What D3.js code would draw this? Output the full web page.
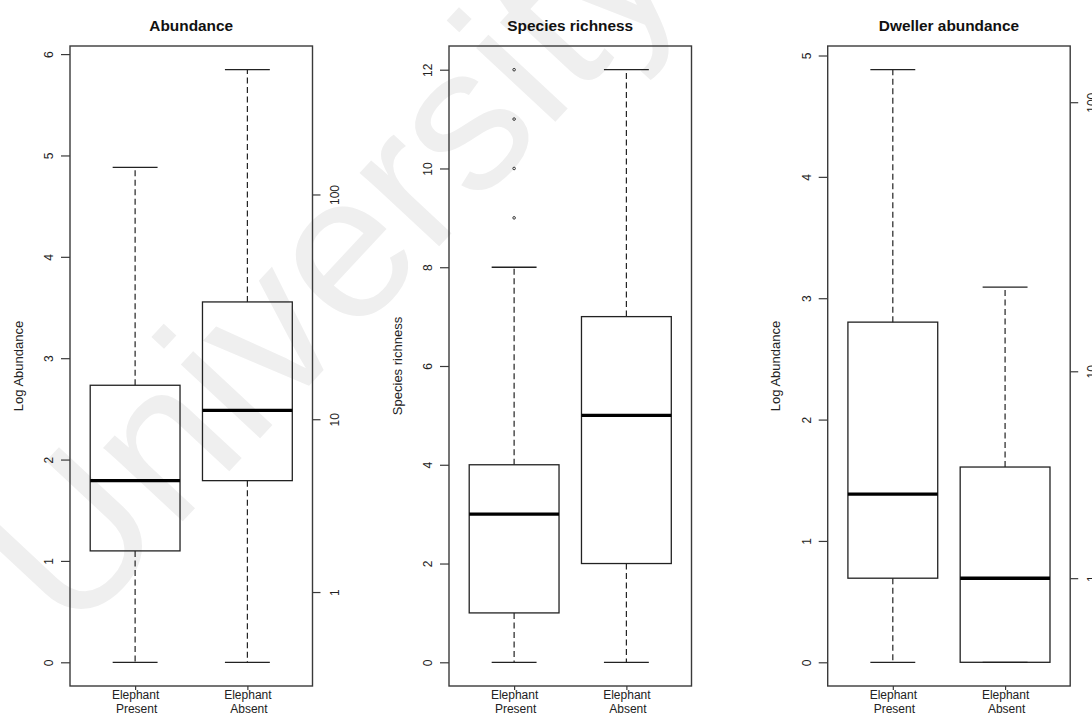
<!DOCTYPE html>
<html>
<head>
<meta charset="utf-8">
<script src="https://cdn.jsdelivr.net/npm/d3@7"></script>
<style>
  html, body { margin: 0; padding: 0; background: #fff; }
  svg { display: block; font-family: "Liberation Sans", Arial, sans-serif; }
</style>
</head>
<body>
<svg id="chart" width="1092" height="715"></svg>
<script>
// ---------------- data ----------------
const groups = ["Elephant\nPresent", "Elephant\nAbsent"];
const panelTitles = ["Abundance", "Species richness", "Dweller abundance"];
const yTitles = ["Log Abundance", "Species richness", "Log Abundance"];

// five-number summaries [min whisker, Q1, median, Q3, max whisker]
const abundancePresent = [0, 1.099, 1.792, 2.733, 4.883];
const abundanceAbsent  = [0, 1.792, 2.485, 3.555, 5.846];
const richnessPresent  = [0, 1, 3, 4, 8];
const richnessAbsent   = [0, 2, 5, 7, 12];
const dwellerPresent   = [0, 0.693, 1.386, 2.803, 4.883];
const dwellerAbsent    = [0, 0, 0.693, 1.609, 3.091];

const richnessPresentOutliers = [9, 10, 11, 12];

const abundanceTicks = [0, 1, 2, 3, 4, 5, 6];
const richnessTicks  = [0, 2, 4, 6, 8, 10, 12];
const dwellerTicks   = [0, 1, 2, 3, 4, 5];
const rawCountTicks  = [1, 10, 100];   // right axis, log(x+1) scale

const panels = [
  { stats: [abundancePresent, abundanceAbsent], outliers: [[], []], ticks: abundanceTicks, right: true },
  { stats: [richnessPresent, richnessAbsent], outliers: [richnessPresentOutliers, []], ticks: richnessTicks, right: false },
  { stats: [dwellerPresent, dwellerAbsent], outliers: [[], []], ticks: dwellerTicks, right: true }
];

// ---------------- layout ----------------
const svg = d3.select("#chart");
const panelLefts = [70, 449, 827.7];
const plotW = 242.5;
const plotTop = 46, plotBottom = 686;
const ink = "#222";
const frameCol = "#3a3a3a";

// watermark (behind everything)
svg.append("text")
  .attr("transform", "translate(72,640) rotate(-47)")
  .attr("font-size", 205)
  .attr("font-family", "'Liberation Sans', Arial, sans-serif")
  .attr("fill", "#efefef")
  .text("University");

panels.forEach((p, i) => {
  const left = panelLefts[i];
  const g = svg.append("g");

  const all = p.stats.flat().concat(p.outliers.flat());
  const lo = d3.min(all), hi = d3.max(all);
  const ext = (hi - lo) * 0.04;
  const yDomain = [lo - ext, hi + ext];
  const y = d3.scaleLinear().domain(yDomain).range([plotBottom, plotTop]);
  const x = d3.scaleLinear().domain([0.42, 2.58]).range([left, left + plotW]);

  // left axis
  const ay = g.append("g")
    .attr("transform", `translate(${left},0)`)
    .call(d3.axisLeft(y).tickValues(p.ticks).tickSize(9).tickFormat(d3.format("d")));
  ay.select(".domain").remove();
  ay.selectAll(".tick line").attr("stroke", frameCol).attr("stroke-width", 1.2);
  ay.selectAll(".tick text")
    .attr("x", null).attr("dy", null)
    .attr("transform", "translate(-21,0) rotate(-90)")
    .attr("text-anchor", "middle")
    .attr("dominant-baseline", "central")
    .attr("font-size", 12)
    .attr("font-family", "'Liberation Sans', Arial, sans-serif")
    .attr("fill", ink);

  // right axis: raw counts on log(x+1) scale
  if (p.right) {
    const yr = d3.scaleSymlog().constant(1)
      .domain(yDomain.map(v => Math.sign(v) * Math.expm1(Math.abs(v))))
      .range([plotBottom, plotTop]);
    const ar = g.append("g")
      .attr("transform", `translate(${left + plotW},0)`)
      .call(d3.axisRight(yr).tickValues(rawCountTicks).tickSize(8).tickFormat(d3.format("d")));
    ar.select(".domain").remove();
    ar.selectAll(".tick line").attr("stroke", frameCol).attr("stroke-width", 1.2);
    ar.selectAll(".tick text")
      .attr("x", null).attr("dy", null)
      .attr("transform", "translate(22,0) rotate(-90)")
      .attr("text-anchor", "middle")
      .attr("dominant-baseline", "central")
      .attr("font-size", 12)
      .attr("font-family", "'Liberation Sans', Arial, sans-serif")
      .attr("fill", ink);
  }

  // bottom axis
  const ax = g.append("g")
    .attr("transform", `translate(0,${plotBottom})`)
    .call(d3.axisBottom(x).tickValues([1, 2]).tickSize(4).tickFormat((d) => groups[d - 1]));
  ax.select(".domain").remove();
  ax.selectAll(".tick line").attr("stroke", frameCol).attr("stroke-width", 1.2);
  ax.selectAll(".tick text").each(function(d) {
    const t = d3.select(this);
    const lines = groups[d - 1].split("\n");
    t.text(null).attr("y", null).attr("dy", null)
      .attr("font-size", 12)
      .attr("font-family", "'Liberation Sans', Arial, sans-serif")
      .attr("fill", ink)
      .attr("text-anchor", "middle");
    lines.forEach((ln, k) => {
      t.append("tspan").attr("x", k === 1 ? 1 : 0).attr("y", 13 + k * 14).text(ln);
    });
  });

  // boxes
  p.stats.forEach((s, k) => {
    const cx = x(k + 1);
    const hw = x(k + 1.4) - cx;   // box half width 0.4
    const cw = x(k + 1.2) - cx;   // cap half width 0.2
    const [mn, q1, md, q3, mx] = s;
    // whiskers
    if (mx > q3 + 1e-9)
      g.append("line").attr("x1", cx).attr("x2", cx).attr("y1", y(q3)).attr("y2", y(mx))
        .attr("stroke", ink).attr("stroke-width", 1.2).attr("stroke-dasharray", "6,3.5");
    if (q1 > mn + 1e-9)
      g.append("line").attr("x1", cx).attr("x2", cx).attr("y1", y(q1)).attr("y2", y(mn))
        .attr("stroke", ink).attr("stroke-width", 1.2).attr("stroke-dasharray", "6,3.5");
    // caps
    [mn, mx].forEach(v => {
      g.append("line").attr("x1", cx - cw).attr("x2", cx + cw).attr("y1", y(v)).attr("y2", y(v))
        .attr("stroke", ink).attr("stroke-width", 1.3);
    });
    // box
    g.append("rect").attr("x", cx - hw).attr("y", y(q3)).attr("width", 2 * hw).attr("height", y(q1) - y(q3))
      .attr("fill", "none").attr("stroke", ink).attr("stroke-width", 1.3);
    // median
    g.append("line").attr("x1", cx - hw).attr("x2", cx + hw).attr("y1", y(md)).attr("y2", y(md))
      .attr("stroke", "#000").attr("stroke-width", 3.4);
    // outliers
    p.outliers[k].forEach(v => {
      g.append("circle").attr("cx", cx).attr("cy", y(v)).attr("r", 1.3)
        .attr("fill", "none").attr("stroke", "#333").attr("stroke-width", 1);
    });
  });

  // frame
  g.append("rect").attr("x", left).attr("y", plotTop).attr("width", plotW).attr("height", plotBottom - plotTop)
    .attr("fill", "none").attr("stroke", frameCol).attr("stroke-width", 1.4);

  // title
  g.append("text").attr("x", left + plotW / 2).attr("y", 30.5)
    .attr("text-anchor", "middle").attr("font-weight", "bold").attr("font-size", 15.4)
    .attr("fill", "#111").text(panelTitles[i]);

  // y title
  g.append("text")
    .attr("transform", `translate(${left - 52},${(plotTop + plotBottom) / 2}) rotate(-90)`)
    .attr("text-anchor", "middle").attr("dominant-baseline", "central")
    .attr("font-size", 13).attr("fill", ink).text(yTitles[i]);
});
</script>
</body>
</html>
